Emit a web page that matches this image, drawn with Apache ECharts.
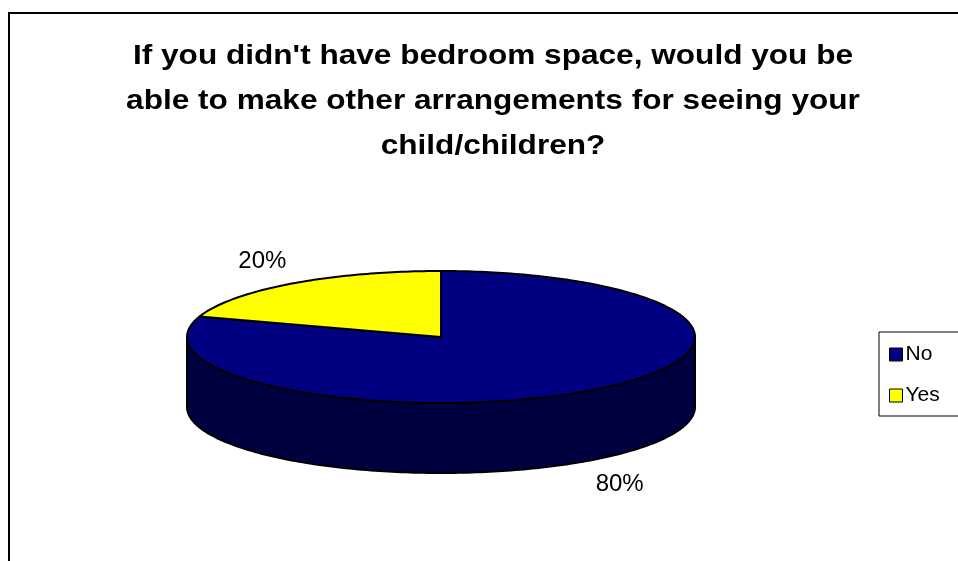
<!DOCTYPE html>
<html>
<head>
<meta charset="utf-8">
<script src="https://cdn.jsdelivr.net/npm/echarts@6/dist/echarts.min.js"></script>
<style>
  html, body { margin: 0; padding: 0; background: #fff; }
  #chart { width: 958px; height: 561px; }
</style>
</head>
<body>
<div id="chart"></div>
<script>
// Answers to the survey question
const categories = ['No', 'Yes'];
const values = [80, 20];
const titleLines = [
  "If you didn't have bedroom space, would you be",
  'able to make other arrangements for seeing your',
  'child/children?'
];

// Slice colours (top face / side wall)
const topColors = ['#000080', '#FFFF00'];
const sideColors = ['#000040', '#808000'];

// Tilted-pie geometry
const pie = { cx: 441, cy: 337, rx: 254, ry: 66, depth: 70 };

const total = values.reduce((a, b) => a + b, 0);
const DEG = Math.PI / 180;

// Slices run clockwise starting at 12 o'clock
function sliceAngles(i) {
  let start = 90;
  for (let k = 0; k < i; k++) start -= values[k] / total * 360;
  return [start, start - values[i] / total * 360];
}

function pt(t, dy) {
  return [pie.cx + pie.rx * Math.cos(t * DEG), pie.cy - pie.ry * Math.sin(t * DEG) + (dy || 0)];
}

function arc(from, to, dy) {
  const pts = [];
  const n = Math.max(2, Math.ceil(Math.abs(from - to) / 1));
  for (let j = 0; j <= n; j++) pts.push(pt(from + (to - from) * j / n, dy));
  return pts;
}

function renderSlice(i) {
  return function () {
    const [a, b] = sliceAngles(i);
    const children = [];
    // visible outer wall: the part of the slice on the front half
    for (let k = -2; k <= 1; k++) {
      const lo = Math.max(b, k * 360 - 180);
      const hi = Math.min(a, k * 360);
      if (hi > lo) {
        const pts = arc(hi, lo, 0).concat(arc(lo, hi, pie.depth));
        children.push({
          type: 'polygon', z2: 1,
          shape: { points: pts },
          style: { fill: sideColors[i], stroke: '#000', lineWidth: 2, lineJoin: 'round' }
        });
      }
    }
    // top face
    const topPts = [[pie.cx, pie.cy]].concat(arc(a, b, 0));
    children.push({
      type: 'polygon', z2: 10,
      shape: { points: topPts },
      style: { fill: topColors[i], stroke: '#000', lineWidth: 2, lineJoin: 'round' }
    });
    // percentage label outside the rim
    const mid = (a + b) / 2;
    const s = Math.sin(mid * DEG);
    const lx = pie.cx + (pie.rx + 50) * Math.cos(mid * DEG);
    const ly = pie.cy - (pie.ry + 29) * s + (s < 0 ? pie.depth : 0) + 1;
    children.push({
      type: 'text', z2: 20,
      x: lx, y: ly,
      style: {
        text: Math.round(values[i] / total * 100) + '%',
        fill: '#000',
        font: '24px "Liberation Sans", Arial, sans-serif',
        align: 'center', verticalAlign: 'middle'
      }
    });
    return { type: 'group', children };
  };
}

const chart = echarts.init(document.getElementById('chart'), null, { renderer: 'canvas' });

chart.setOption({
  animation: false,
  backgroundColor: '#fff',
  legend: {
    data: categories,
    orient: 'vertical',
    left: 879,
    top: 332,
    padding: [12, 40, 10, 10],
    itemGap: 20,
    itemWidth: 13,
    itemHeight: 13,
    icon: 'rect',
    backgroundColor: '#fff',
    borderColor: '#000',
    borderWidth: 1,
    borderRadius: 0,
    itemStyle: { borderColor: '#000', borderWidth: 1 },
    textStyle: {
      fontFamily: '"Liberation Sans", Arial, sans-serif',
      fontSize: 21,
      color: '#000',
      padding: [0, 0, 0, -2]
    }
  },
  graphic: [{
    type: 'rect',
    shape: { x: 9, y: 13, width: 1000, height: 600 },
    style: { fill: 'none', stroke: '#000', lineWidth: 2 },
    z: 0
  }, {
    // chart title, set slightly wide
    type: 'text',
    x: 493,
    y: 34,
    scaleX: 1.17,
    style: {
      text: titleLines.join('\n'),
      font: 'bold 27px "Liberation Sans", Arial, sans-serif',
      lineHeight: 45,
      fill: '#000',
      align: 'center',
      verticalAlign: 'top'
    },
    z: 5
  }],
  series: categories.map((name, i) => ({
    type: 'custom',
    name: name,
    coordinateSystem: 'none',
    itemStyle: { color: topColors[i] },
    renderItem: renderSlice(i),
    data: [values[i]],
    silent: true
  }))
});
</script>
</body>
</html>
